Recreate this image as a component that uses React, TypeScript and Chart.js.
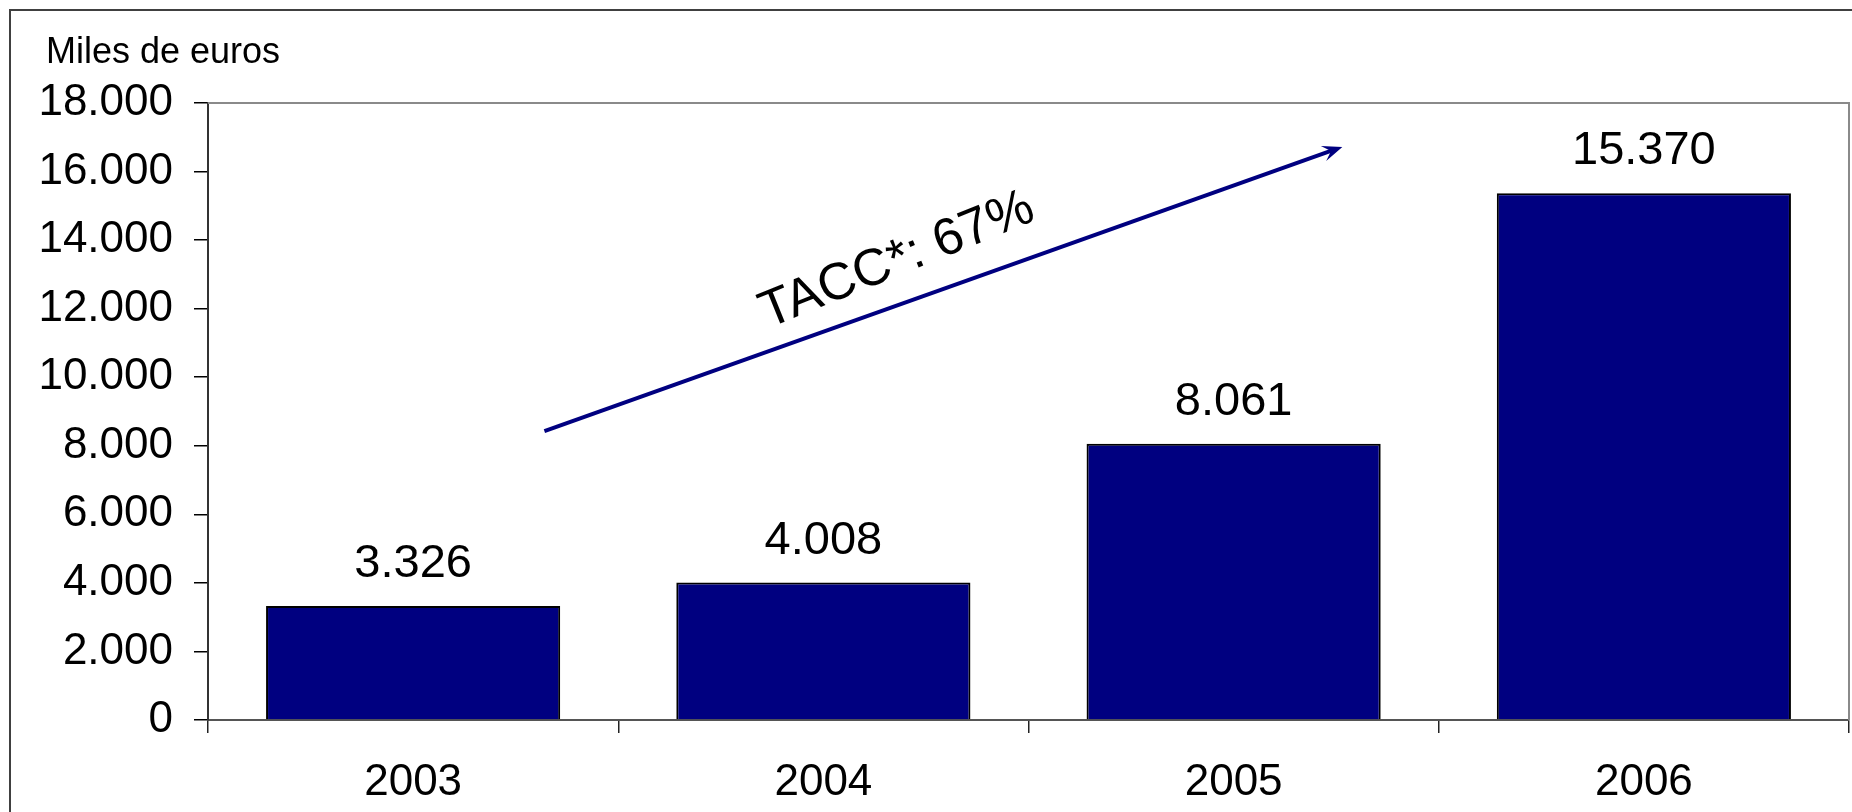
import React, { useEffect, useRef } from 'react';
import { Chart, registerables } from 'chart.js';

Chart.register(...registerables);

// ---- data ----
const categories = ['2003', '2004', '2005', '2006'];
const values = [3326, 4008, 8061, 15370];
const valueLabels = ['3.326', '4.008', '8.061', '15.370'];
const yTicks = [0, 2000, 4000, 6000, 8000, 10000, 12000, 14000, 16000, 18000];
const yTickLabels = ['0', '2.000', '4.000', '6.000', '8.000', '10.000', '12.000', '14.000', '16.000', '18.000'];
const unitLabel = 'Miles de euros';
const growthLabel = 'TACC*: 67%';
// arrow annotation in data space (x = category index, y = value)
const arrowFrom = [0.32, 8430];
const arrowTo = [2.265, 16720];
const growthLabelAt = [1.18, 13400];

const FONT = '"Liberation Sans", Arial, Helvetica, sans-serif';
const NAVY = '#000080';

const decorPlugin = {
  id: 'decor',
  beforeDraw(chart: any) {
    const ctx = chart.ctx;
    ctx.save();
    ctx.fillStyle = '#fff';
    ctx.fillRect(0, 0, chart.width, chart.height);
    // outer frame (left + top)
    ctx.strokeStyle = '#404040';
    ctx.lineWidth = 2;
    ctx.beginPath();
    ctx.moveTo(10, chart.height + 5);
    ctx.lineTo(10, 10);
    ctx.lineTo(chart.width + 5, 10);
    ctx.stroke();
    // unit label
    ctx.fillStyle = '#000';
    ctx.font = `36px ${FONT}`;
    ctx.textAlign = 'left';
    ctx.textBaseline = 'alphabetic';
    ctx.fillText(unitLabel, 46, 63);
    ctx.restore();
  },
  afterDatasetsDraw(chart: any) {
    const ctx = chart.ctx;
    const xs = chart.scales.x;
    const ys = chart.scales.y;
    const area = chart.chartArea;
    ctx.save();
    // plot border top and right
    ctx.strokeStyle = '#8a8a8a';
    ctx.lineWidth = 2;
    ctx.beginPath();
    ctx.moveTo(area.left, area.top);
    ctx.lineTo(area.right, area.top);
    ctx.lineTo(area.right, area.bottom);
    ctx.stroke();

    // value labels
    const meta = chart.getDatasetMeta(0);
    ctx.fillStyle = '#000';
    ctx.font = `47px ${FONT}`;
    ctx.textAlign = 'center';
    ctx.textBaseline = 'alphabetic';
    meta.data.forEach((bar: any, i: number) => {
      ctx.fillText(valueLabels[i], bar.x, bar.y - 29);
    });

    // arrow
    const x0 = xs.getPixelForValue(arrowFrom[0]);
    const y0 = ys.getPixelForValue(arrowFrom[1]);
    const x1 = xs.getPixelForValue(arrowTo[0]);
    const y1 = ys.getPixelForValue(arrowTo[1]);
    const a = Math.atan2(y1 - y0, x1 - x0);
    const len = 20;
    const hw = 8;
    ctx.strokeStyle = NAVY;
    ctx.fillStyle = NAVY;
    ctx.lineWidth = 4;
    ctx.beginPath();
    ctx.moveTo(x0, y0);
    ctx.lineTo(x1 - Math.cos(a) * 10, y1 - Math.sin(a) * 10);
    ctx.stroke();
    const bx = x1 - Math.cos(a) * len;
    const by = y1 - Math.sin(a) * len;
    const nx = -Math.sin(a);
    const ny = Math.cos(a);
    const ix = x1 - Math.cos(a) * len * 0.6;
    const iy = y1 - Math.sin(a) * len * 0.6;
    ctx.beginPath();
    ctx.moveTo(x1, y1);
    ctx.lineTo(bx + nx * hw, by + ny * hw);
    ctx.lineTo(ix, iy);
    ctx.lineTo(bx - nx * hw, by - ny * hw);
    ctx.closePath();
    ctx.fill();

    // growth label
    const tx = xs.getPixelForValue(growthLabelAt[0]);
    const ty = ys.getPixelForValue(growthLabelAt[1]);
    ctx.translate(tx, ty);
    ctx.rotate((-22 * Math.PI) / 180);
    ctx.fillStyle = '#000';
    ctx.font = `52px ${FONT}`;
    ctx.textAlign = 'center';
    ctx.textBaseline = 'middle';
    ctx.fillText(growthLabel, 0, 0);
    ctx.restore();
  },
};

export default function App() {
  const ref = useRef<HTMLCanvasElement | null>(null);
  useEffect(() => {
    if (!ref.current) return;
    const chart = new Chart(ref.current, {
      type: 'bar',
      data: {
        labels: categories,
        datasets: [
          {
            data: values,
            backgroundColor: NAVY,
            borderColor: '#000',
            borderWidth: 2,
            barPercentage: 0.717,
            categoryPercentage: 1,
          },
        ],
      },
      options: {
        animation: false,
        responsive: false,
        maintainAspectRatio: false,
        devicePixelRatio: 1,
        layout: { padding: { top: 103, right: 3, left: 0, bottom: 0 } },
        plugins: {
          legend: { display: false },
          tooltip: { enabled: false },
          title: { display: false },
        },
        scales: {
          x: {
            offset: true,
            grid: {
              offset: true,
              drawOnChartArea: false,
              drawTicks: true,
              tickLength: 13,
              color: '#222',
              lineWidth: 1.5,
            },
            border: { display: true, color: '#555', width: 2 },
            ticks: {
              color: '#000',
              font: { family: FONT, size: 44 },
              padding: 23,
              maxRotation: 0,
            },
            afterFit: (s: any) => {
              s.height = 92;
            },
          },
          y: {
            min: 0,
            max: 18000,
            grid: {
              drawOnChartArea: false,
              drawTicks: true,
              tickLength: 14,
              color: '#000',
              lineWidth: 1.5,
            },
            border: { display: true, color: '#333', width: 2 },
            ticks: {
              stepSize: 2000,
              color: '#000',
              font: { family: FONT, size: 44 },
              padding: 21,
              callback: (v: any) => {
                const i = yTicks.indexOf(Number(v));
                return i >= 0 ? yTickLabels[i] : '';
              },
            },
            afterFit: (s: any) => {
              s.width = 208;
            },
          },
        },
      },
      plugins: [decorPlugin],
    });
    return () => chart.destroy();
  }, []);
  return (
    <div style={{ position: 'absolute', left: 0, top: 0, width: 1852, height: 812, background: '#fff' }}>
      <canvas ref={ref} width={1852} height={812} style={{ display: 'block', width: 1852, height: 812 }} />
    </div>
  );
}
